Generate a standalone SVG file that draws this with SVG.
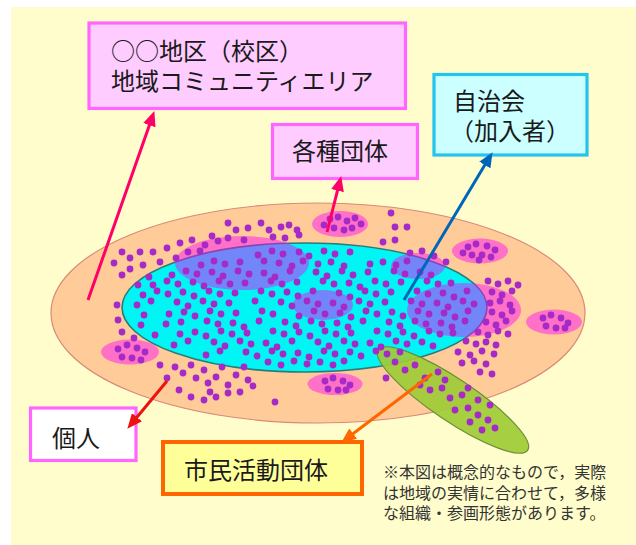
<svg xmlns="http://www.w3.org/2000/svg" width="636" height="545" viewBox="0 0 636 545">
<style>
.box{stroke-width:3.2}
.pink{fill:#FFCCFF;stroke:#FF66FF}
.t{font-family:"Noto Sans CJK JP","Noto Sans CJK SC",sans-serif;font-size:24px;fill:#1a1a1a}
.note{font-family:"Noto Sans CJK JP","Noto Sans CJK SC",sans-serif;font-size:16px;fill:#333}
.blob{fill:#FF00FF;fill-opacity:0.45}
</style>
<defs>
<marker id="mRed" viewBox="0 0 15 13" markerWidth="15" markerHeight="13" refX="4" refY="6.5" orient="auto" markerUnits="userSpaceOnUse"><path d="M0,0 L15,6.5 L0,13 z" fill="#FF0066"/></marker>
<marker id="mBlue" viewBox="0 0 15 13" markerWidth="15" markerHeight="13" refX="4" refY="6.5" orient="auto" markerUnits="userSpaceOnUse"><path d="M0,0 L15,6.5 L0,13 z" fill="#0066BB"/></marker>
<marker id="mRed2" viewBox="0 0 15 13" markerWidth="15" markerHeight="13" refX="4" refY="6.5" orient="auto" markerUnits="userSpaceOnUse"><path d="M0,0 L15,6.5 L0,13 z" fill="#EE1111"/></marker>
<marker id="mOrange" viewBox="0 0 15 13" markerWidth="15" markerHeight="13" refX="4" refY="6.5" orient="auto" markerUnits="userSpaceOnUse"><path d="M0,0 L15,6.5 L0,13 z" fill="#FF6600"/></marker>
</defs>
<rect x="0" y="0" width="636" height="545" fill="#FFFFFF"/>
<rect x="11" y="7" width="625" height="538" fill="#FFFDCC"/>

<g id="scene">
<ellipse cx="318" cy="313" rx="267" ry="110" fill="#FFCC99" stroke="#D98A78" stroke-width="1.2"/>
<ellipse cx="304.5" cy="307.5" rx="182.5" ry="64.5" fill="#00F5F5" stroke="#2E7A78" stroke-width="1.6"/>
<ellipse class="blob" cx="242" cy="263" rx="67" ry="27"/>
<ellipse class="blob" cx="323" cy="305" rx="30" ry="15"/>
<ellipse class="blob" cx="418" cy="266" rx="27" ry="13"/>
<ellipse class="blob" cx="464" cy="310" rx="57" ry="27"/>
<ellipse class="blob" cx="340" cy="224" rx="28" ry="13"/>
<ellipse class="blob" cx="480" cy="251" rx="28" ry="12.5"/>
<ellipse class="blob" cx="554" cy="322" rx="28" ry="12.5"/>
<ellipse class="blob" cx="130" cy="352" rx="29" ry="12.5"/>
<ellipse class="blob" cx="335" cy="384" rx="27.5" ry="11"/>
<ellipse cx="453" cy="400" rx="90" ry="21" transform="rotate(33.9 453 400)" fill="#9FCB36" fill-opacity="0.92" stroke="#6B8E3A" stroke-width="1.2"/>
</g>

<g id="dots" fill="#A52AC8">
<circle cx="228" cy="223" r="3.4"/><circle cx="236" cy="230" r="3.4"/><circle cx="248" cy="228" r="3.4"/><circle cx="261" cy="223" r="3.4"/><circle cx="269" cy="230" r="3.4"/><circle cx="281" cy="227" r="3.4"/><circle cx="289" cy="225" r="3.4"/><circle cx="297" cy="230" r="3.4"/><circle cx="273" cy="237" r="3.4"/><circle cx="285" cy="238" r="3.4"/><circle cx="299" cy="235" r="3.4"/><circle cx="228" cy="238" r="3.4"/><circle cx="244" cy="240" r="3.4"/><circle cx="212" cy="236" r="3.4"/>
<circle cx="330" cy="219" r="3.4"/><circle cx="338" cy="217" r="3.4"/><circle cx="347" cy="221" r="3.4"/><circle cx="355" cy="218" r="3.4"/><circle cx="361" cy="224" r="3.4"/><circle cx="334" cy="228" r="3.4"/><circle cx="344" cy="230" r="3.4"/><circle cx="352" cy="228" r="3.4"/><circle cx="324" cy="225" r="3.4"/>
<circle cx="391" cy="213" r="3.4"/><circle cx="395" cy="227" r="3.4"/><circle cx="407" cy="227" r="3.4"/><circle cx="383" cy="242" r="3.4"/><circle cx="395" cy="240" r="3.4"/>
<circle cx="468" cy="247" r="3.4"/><circle cx="476" cy="244" r="3.4"/><circle cx="487" cy="246" r="3.4"/><circle cx="495" cy="250" r="3.4"/><circle cx="472" cy="255" r="3.4"/><circle cx="482" cy="255" r="3.4"/><circle cx="491" cy="257" r="3.4"/><circle cx="479" cy="260" r="3.4"/><circle cx="463" cy="253" r="3.4"/>
<circle cx="410" cy="253" r="3.4"/><circle cx="422" cy="251" r="3.4"/><circle cx="434" cy="256" r="3.4"/><circle cx="446" cy="262" r="3.4"/>
<circle cx="122" cy="252" r="3.4"/><circle cx="130" cy="258" r="3.4"/><circle cx="140" cy="252" r="3.4"/><circle cx="153" cy="252" r="3.4"/><circle cx="167" cy="248" r="3.4"/><circle cx="114" cy="263" r="3.4"/><circle cx="122" cy="275" r="3.4"/><circle cx="130" cy="269" r="3.4"/><circle cx="143" cy="265" r="3.4"/><circle cx="149" cy="277" r="3.4"/><circle cx="160" cy="262" r="3.4"/><circle cx="138" cy="285" r="3.4"/><circle cx="180" cy="243" r="3.4"/><circle cx="192" cy="240" r="3.4"/><circle cx="205" cy="245" r="3.4"/><circle cx="218" cy="241" r="3.4"/><circle cx="188" cy="252" r="3.4"/><circle cx="200" cy="251" r="3.4"/><circle cx="176" cy="258" r="3.4"/>
<circle cx="117" cy="305" r="3.4"/><circle cx="118" cy="320" r="3.4"/><circle cx="122" cy="332" r="3.4"/><circle cx="134" cy="338" r="3.4"/>
<circle cx="118" cy="349" r="3.4"/><circle cx="127" cy="345" r="3.4"/><circle cx="137" cy="348" r="3.4"/><circle cx="145" cy="352" r="3.4"/><circle cx="122" cy="357" r="3.4"/><circle cx="132" cy="358" r="3.4"/><circle cx="141" cy="360" r="3.4"/>
<circle cx="167" cy="378" r="3.4"/><circle cx="175" cy="367" r="3.4"/><circle cx="183" cy="373" r="3.4"/><circle cx="191" cy="365" r="3.4"/><circle cx="196" cy="378" r="3.4"/><circle cx="204" cy="370" r="3.4"/><circle cx="208" cy="383" r="3.4"/><circle cx="216" cy="377" r="3.4"/><circle cx="222" cy="367" r="3.4"/><circle cx="228" cy="385" r="3.4"/><circle cx="236" cy="375" r="3.4"/><circle cx="244" cy="367" r="3.4"/><circle cx="248" cy="380" r="3.4"/><circle cx="253" cy="386" r="3.4"/><circle cx="179" cy="390" r="3.4"/><circle cx="191" cy="397" r="3.4"/><circle cx="204" cy="400" r="3.4"/><circle cx="216" cy="397" r="3.4"/><circle cx="228" cy="393" r="3.4"/><circle cx="240" cy="392" r="3.4"/><circle cx="210" cy="392" r="3.4"/><circle cx="275" cy="402" r="3.4"/><circle cx="160" cy="365" r="3.4"/>
<circle cx="325" cy="381" r="3.4"/><circle cx="333" cy="378" r="3.4"/><circle cx="343" cy="381" r="3.4"/><circle cx="350" cy="385" r="3.4"/><circle cx="328" cy="389" r="3.4"/><circle cx="338" cy="390" r="3.4"/><circle cx="346" cy="390" r="3.4"/>
<circle cx="488" cy="281" r="3.4"/><circle cx="498" cy="284" r="3.4"/><circle cx="508" cy="281" r="3.4"/><circle cx="518" cy="285" r="3.4"/><circle cx="492" cy="292" r="3.4"/><circle cx="502" cy="295" r="3.4"/><circle cx="512" cy="291" r="3.4"/><circle cx="490" cy="303" r="3.4"/><circle cx="500" cy="301" r="3.4"/><circle cx="510" cy="305" r="3.4"/><circle cx="492" cy="312" r="3.4"/><circle cx="502" cy="315" r="3.4"/><circle cx="512" cy="311" r="3.4"/><circle cx="486" cy="322" r="3.4"/><circle cx="496" cy="325" r="3.4"/><circle cx="506" cy="321" r="3.4"/><circle cx="478" cy="332" r="3.4"/><circle cx="488" cy="335" r="3.4"/><circle cx="498" cy="331" r="3.4"/><circle cx="508" cy="334" r="3.4"/><circle cx="466" cy="341" r="3.4"/><circle cx="476" cy="344" r="3.4"/><circle cx="486" cy="342" r="3.4"/><circle cx="496" cy="345" r="3.4"/><circle cx="458" cy="352" r="3.4"/><circle cx="470" cy="355" r="3.4"/><circle cx="482" cy="351" r="3.4"/><circle cx="494" cy="354" r="3.4"/><circle cx="462" cy="363" r="3.4"/><circle cx="474" cy="361" r="3.4"/><circle cx="486" cy="364" r="3.4"/><circle cx="480" cy="372" r="3.4"/><circle cx="492" cy="374" r="3.4"/>
<circle cx="395" cy="362" r="3.4"/><circle cx="405" cy="370" r="3.4"/><circle cx="415" cy="365" r="3.4"/><circle cx="425" cy="378" r="3.4"/><circle cx="438" cy="372" r="3.4"/><circle cx="430" cy="390" r="3.4"/><circle cx="442" cy="388" r="3.4"/><circle cx="450" cy="398" r="3.4"/><circle cx="462" cy="395" r="3.4"/><circle cx="455" cy="410" r="3.4"/><circle cx="468" cy="408" r="3.4"/><circle cx="478" cy="415" r="3.4"/><circle cx="470" cy="422" r="3.4"/><circle cx="488" cy="420" r="3.4"/><circle cx="482" cy="430" r="3.4"/><circle cx="495" cy="428" r="3.4"/><circle cx="468" cy="388" r="3.4"/><circle cx="445" cy="380" r="3.4"/><circle cx="420" cy="385" r="3.4"/><circle cx="386" cy="378" r="3.4"/><circle cx="478" cy="400" r="3.4"/><circle cx="490" cy="405" r="3.4"/>
<circle cx="543" cy="318" r="3.4"/><circle cx="551" cy="315" r="3.4"/><circle cx="561" cy="318" r="3.4"/><circle cx="568" cy="323" r="3.4"/><circle cx="546" cy="326" r="3.4"/><circle cx="556" cy="328" r="3.4"/><circle cx="565" cy="328" r="3.4"/>
<circle cx="258" cy="255" r="3.4"/><circle cx="272" cy="251" r="3.4"/><circle cx="283" cy="254" r="3.4"/><circle cx="299" cy="252" r="3.4"/><circle cx="309" cy="256" r="3.4"/><circle cx="324" cy="251" r="3.4"/><circle cx="335" cy="254" r="3.4"/><circle cx="350" cy="252" r="3.4"/>
<circle cx="201" cy="265" r="3.4"/><circle cx="214" cy="261" r="3.4"/><circle cx="225" cy="264" r="3.4"/><circle cx="240" cy="262" r="3.4"/><circle cx="264" cy="261" r="3.4"/><circle cx="279" cy="263" r="3.4"/><circle cx="292" cy="266" r="3.4"/><circle cx="303" cy="261" r="3.4"/><circle cx="318" cy="264" r="3.4"/><circle cx="331" cy="262" r="3.4"/><circle cx="344" cy="266" r="3.4"/><circle cx="370" cy="264" r="3.4"/><circle cx="383" cy="262" r="3.4"/><circle cx="396" cy="265" r="3.4"/><circle cx="407" cy="261" r="3.4"/>
<circle cx="172" cy="275" r="3.4"/><circle cx="186" cy="271" r="3.4"/><circle cx="197" cy="274" r="3.4"/><circle cx="212" cy="272" r="3.4"/><circle cx="223" cy="276" r="3.4"/><circle cx="238" cy="271" r="3.4"/><circle cx="249" cy="274" r="3.4"/><circle cx="264" cy="273" r="3.4"/><circle cx="275" cy="277" r="3.4"/><circle cx="290" cy="271" r="3.4"/><circle cx="316" cy="272" r="3.4"/><circle cx="327" cy="276" r="3.4"/><circle cx="342" cy="271" r="3.4"/><circle cx="353" cy="275" r="3.4"/><circle cx="368" cy="272" r="3.4"/><circle cx="394" cy="271" r="3.4"/><circle cx="405" cy="274" r="3.4"/><circle cx="420" cy="272" r="3.4"/><circle cx="431" cy="275" r="3.4"/>
<circle cx="153" cy="285" r="3.4"/><circle cx="167" cy="281" r="3.4"/><circle cx="178" cy="284" r="3.4"/><circle cx="193" cy="282" r="3.4"/><circle cx="204" cy="286" r="3.4"/><circle cx="219" cy="281" r="3.4"/><circle cx="230" cy="284" r="3.4"/><circle cx="245" cy="283" r="3.4"/><circle cx="271" cy="281" r="3.4"/><circle cx="282" cy="284" r="3.4"/><circle cx="297" cy="282" r="3.4"/><circle cx="323" cy="281" r="3.4"/><circle cx="334" cy="284" r="3.4"/><circle cx="349" cy="283" r="3.4"/><circle cx="360" cy="287" r="3.4"/><circle cx="375" cy="281" r="3.4"/><circle cx="386" cy="284" r="3.4"/><circle cx="401" cy="282" r="3.4"/><circle cx="427" cy="281" r="3.4"/><circle cx="438" cy="284" r="3.4"/><circle cx="451" cy="283" r="3.4"/>
<circle cx="143" cy="295" r="3.4"/><circle cx="157" cy="291" r="3.4"/><circle cx="168" cy="294" r="3.4"/><circle cx="183" cy="292" r="3.4"/><circle cx="194" cy="296" r="3.4"/><circle cx="209" cy="291" r="3.4"/><circle cx="220" cy="294" r="3.4"/><circle cx="235" cy="293" r="3.4"/><circle cx="261" cy="291" r="3.4"/><circle cx="272" cy="294" r="3.4"/><circle cx="287" cy="292" r="3.4"/><circle cx="298" cy="296" r="3.4"/><circle cx="313" cy="291" r="3.4"/><circle cx="339" cy="293" r="3.4"/><circle cx="350" cy="297" r="3.4"/><circle cx="365" cy="291" r="3.4"/><circle cx="376" cy="294" r="3.4"/><circle cx="391" cy="292" r="3.4"/><circle cx="417" cy="291" r="3.4"/><circle cx="428" cy="294" r="3.4"/><circle cx="443" cy="293" r="3.4"/><circle cx="454" cy="297" r="3.4"/><circle cx="467" cy="291" r="3.4"/>
<circle cx="137" cy="305" r="3.4"/><circle cx="151" cy="301" r="3.4"/><circle cx="177" cy="302" r="3.4"/><circle cx="188" cy="306" r="3.4"/><circle cx="203" cy="301" r="3.4"/><circle cx="214" cy="304" r="3.4"/><circle cx="229" cy="303" r="3.4"/><circle cx="255" cy="301" r="3.4"/><circle cx="281" cy="302" r="3.4"/><circle cx="292" cy="306" r="3.4"/><circle cx="307" cy="301" r="3.4"/><circle cx="318" cy="304" r="3.4"/><circle cx="333" cy="303" r="3.4"/><circle cx="344" cy="307" r="3.4"/><circle cx="359" cy="301" r="3.4"/><circle cx="370" cy="304" r="3.4"/><circle cx="385" cy="302" r="3.4"/><circle cx="411" cy="301" r="3.4"/><circle cx="422" cy="304" r="3.4"/><circle cx="437" cy="303" r="3.4"/><circle cx="448" cy="307" r="3.4"/><circle cx="463" cy="301" r="3.4"/><circle cx="474" cy="304" r="3.4"/>
<circle cx="144" cy="315" r="3.4"/><circle cx="169" cy="314" r="3.4"/><circle cx="184" cy="312" r="3.4"/><circle cx="195" cy="316" r="3.4"/><circle cx="210" cy="311" r="3.4"/><circle cx="221" cy="314" r="3.4"/><circle cx="236" cy="313" r="3.4"/><circle cx="262" cy="311" r="3.4"/><circle cx="273" cy="314" r="3.4"/><circle cx="299" cy="316" r="3.4"/><circle cx="314" cy="311" r="3.4"/><circle cx="325" cy="314" r="3.4"/><circle cx="340" cy="313" r="3.4"/><circle cx="351" cy="317" r="3.4"/><circle cx="366" cy="311" r="3.4"/><circle cx="377" cy="314" r="3.4"/><circle cx="392" cy="312" r="3.4"/><circle cx="403" cy="316" r="3.4"/><circle cx="418" cy="311" r="3.4"/><circle cx="429" cy="314" r="3.4"/><circle cx="444" cy="313" r="3.4"/><circle cx="455" cy="317" r="3.4"/><circle cx="468" cy="311" r="3.4"/>
<circle cx="141" cy="325" r="3.4"/><circle cx="166" cy="324" r="3.4"/><circle cx="181" cy="322" r="3.4"/><circle cx="207" cy="321" r="3.4"/><circle cx="218" cy="324" r="3.4"/><circle cx="233" cy="323" r="3.4"/><circle cx="244" cy="327" r="3.4"/><circle cx="259" cy="321" r="3.4"/><circle cx="285" cy="322" r="3.4"/><circle cx="296" cy="326" r="3.4"/><circle cx="311" cy="321" r="3.4"/><circle cx="322" cy="324" r="3.4"/><circle cx="337" cy="323" r="3.4"/><circle cx="348" cy="327" r="3.4"/><circle cx="363" cy="321" r="3.4"/><circle cx="389" cy="322" r="3.4"/><circle cx="400" cy="326" r="3.4"/><circle cx="415" cy="321" r="3.4"/><circle cx="426" cy="324" r="3.4"/><circle cx="441" cy="323" r="3.4"/><circle cx="452" cy="327" r="3.4"/><circle cx="465" cy="321" r="3.4"/>
<circle cx="155" cy="335" r="3.4"/><circle cx="180" cy="334" r="3.4"/><circle cx="195" cy="332" r="3.4"/><circle cx="206" cy="336" r="3.4"/><circle cx="221" cy="331" r="3.4"/><circle cx="232" cy="334" r="3.4"/><circle cx="247" cy="333" r="3.4"/><circle cx="273" cy="331" r="3.4"/><circle cx="284" cy="334" r="3.4"/><circle cx="299" cy="332" r="3.4"/><circle cx="310" cy="336" r="3.4"/><circle cx="325" cy="331" r="3.4"/><circle cx="336" cy="334" r="3.4"/><circle cx="351" cy="333" r="3.4"/><circle cx="377" cy="331" r="3.4"/><circle cx="388" cy="334" r="3.4"/><circle cx="403" cy="332" r="3.4"/><circle cx="414" cy="336" r="3.4"/><circle cx="429" cy="331" r="3.4"/><circle cx="440" cy="334" r="3.4"/><circle cx="453" cy="333" r="3.4"/>
<circle cx="174" cy="345" r="3.4"/><circle cx="188" cy="341" r="3.4"/><circle cx="214" cy="342" r="3.4"/><circle cx="225" cy="346" r="3.4"/><circle cx="240" cy="341" r="3.4"/><circle cx="251" cy="344" r="3.4"/><circle cx="266" cy="343" r="3.4"/><circle cx="277" cy="347" r="3.4"/><circle cx="292" cy="341" r="3.4"/><circle cx="318" cy="342" r="3.4"/><circle cx="329" cy="346" r="3.4"/><circle cx="344" cy="341" r="3.4"/><circle cx="355" cy="344" r="3.4"/><circle cx="370" cy="343" r="3.4"/><circle cx="381" cy="347" r="3.4"/><circle cx="396" cy="341" r="3.4"/><circle cx="407" cy="344" r="3.4"/><circle cx="422" cy="342" r="3.4"/><circle cx="433" cy="346" r="3.4"/>
<circle cx="206" cy="355" r="3.4"/><circle cx="220" cy="351" r="3.4"/><circle cx="246" cy="352" r="3.4"/><circle cx="257" cy="356" r="3.4"/><circle cx="272" cy="351" r="3.4"/><circle cx="283" cy="354" r="3.4"/><circle cx="298" cy="353" r="3.4"/><circle cx="309" cy="357" r="3.4"/><circle cx="324" cy="351" r="3.4"/><circle cx="335" cy="354" r="3.4"/><circle cx="350" cy="352" r="3.4"/><circle cx="361" cy="356" r="3.4"/><circle cx="376" cy="351" r="3.4"/><circle cx="387" cy="354" r="3.4"/><circle cx="400" cy="352" r="3.4"/>
<circle cx="268" cy="362" r="3.4"/><circle cx="281" cy="365" r="3.4"/><circle cx="294" cy="361" r="3.4"/><circle cx="307" cy="364" r="3.4"/><circle cx="320" cy="362" r="3.4"/><circle cx="333" cy="365" r="3.4"/><circle cx="344" cy="361" r="3.4"/>
</g>

<g id="node-area">
<rect class="box pink" x="89" y="23" width="316.5" height="85.5"/>
<text class="t" x="111" y="60">○○地区（校区）</text>
<text class="t" x="111" y="90">地域コミュニティエリア</text>
</g>
<g id="node-jichikai">
<rect class="box" x="434" y="74.5" width="153" height="80.5" fill="#CCFFFF" stroke="#22C4F0" stroke-width="3.5"/>
<text class="t" x="453" y="110">自治会</text>
<text class="t" x="450" y="140">（加入者）</text>
</g>
<g id="node-kakushu">
<rect class="box pink" x="272.5" y="124.5" width="145" height="54"/>
<text class="t" x="292" y="160">各種団体</text>
</g>
<g id="node-kojin">
<rect class="box" x="30.5" y="408" width="105.5" height="52.5" fill="#FFFFFF" stroke="#FF66FF"/>
<text class="t" x="52" y="446.5">個人</text>
</g>
<g id="node-shimin">
<rect x="163" y="442" width="199" height="52" fill="#FFFF99" stroke="#FF6600" stroke-width="4"/>
<text class="t" x="184" y="478.5">市民活動団体</text>
</g>
<g id="note">
<text class="note" x="383" y="478">※本図は概念的なもので，実際</text>
<text class="note" x="383" y="499">は地域の実情に合わせて，多様</text>
<text class="note" x="383" y="519">な組織・参画形態があります。</text>
</g>

<g id="connectors" fill="none" stroke-width="3">
<line x1="88" y1="300" x2="150.7" y2="121.4" stroke="#FF0066" marker-end="url(#mRed)"/>
<line x1="327" y1="232" x2="338.5" y2="186.7" stroke="#FF0066" marker-end="url(#mRed)"/>
<line x1="404" y1="300" x2="486.9" y2="161.6" stroke="#0066BB" marker-end="url(#mBlue)"/>
<line x1="167" y1="381" x2="134.4" y2="420.3" stroke="#EE1111" marker-end="url(#mRed2)"/>
<line x1="432" y1="374" x2="350" y2="436" stroke="#FF6600" marker-end="url(#mOrange)"/>
</g>
</svg>
